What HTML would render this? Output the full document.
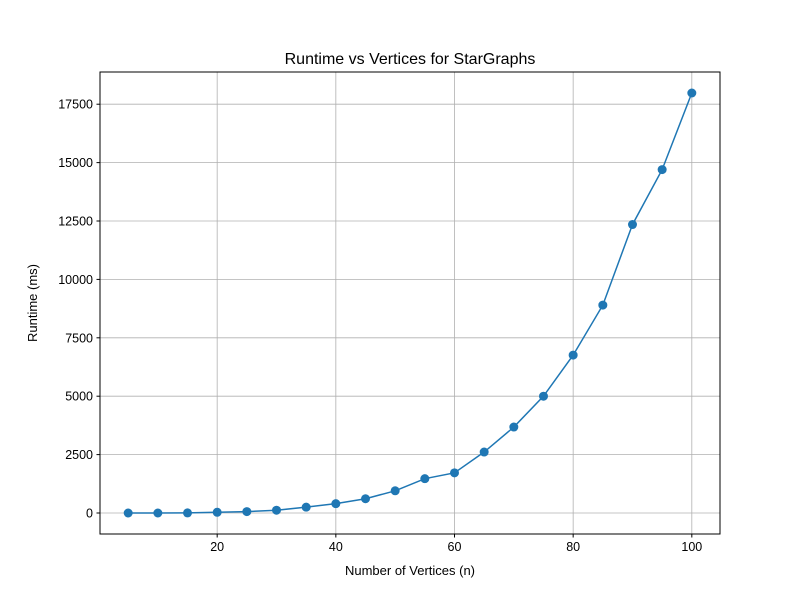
<!DOCTYPE html>
<html><head><meta charset="utf-8"><style>body{margin:0;background:#fff}svg{font-family:"Liberation Sans","DejaVu Sans",sans-serif}</style></head>
<body>
<svg id="chart" width="800" height="600">
<rect width="800" height="600" fill="#fff"/>
<g id="grid"></g>
<g id="series"></g>
<rect x="100" y="72" width="620" height="462" fill="none" stroke="#000" stroke-width="1"/>
<g id="axes" font-size="12.5" fill="#000"></g>
<text x="410" y="64" text-anchor="middle" font-size="16">Runtime vs Vertices for StarGraphs</text>
<text x="410" y="575" text-anchor="middle" font-size="13">Number of Vertices (n)</text>
<text x="37" y="303" text-anchor="middle" font-size="13" transform="rotate(-90 37 303)">Runtime (ms)</text>
</svg>
<script>
const vertices=[5,10,15,20,25,30,35,40,45,50,55,60,65,70,75,80,85,90,95,100];
const runtimes=[0,0,5,30,60,120,250,400,610,950,1470,1720,2610,3680,5000,6760,8900,12350,14700,17980];
const xTicks=[20,40,60,80,100];
const yTicks=[0,2500,5000,7500,10000,12500,15000,17500];
const NS="http://www.w3.org/2000/svg";
const L=100,R=720,T=72,B=534;
const xmin=Math.min(...vertices),xmax=Math.max(...vertices),xm=(xmax-xmin)*0.05;
const ymin=Math.min(...runtimes),ymax=Math.max(...runtimes),ym=(ymax-ymin)*0.05;
const xs=v=>L+(v-(xmin-xm))/((xmax+xm)-(xmin-xm))*(R-L);
const ys=v=>B-(v-(ymin-ym))/((ymax+ym)-(ymin-ym))*(B-T);
function mk(t,a,p){const e=document.createElementNS(NS,t);for(const k in a)e.setAttribute(k,a[k]);p.appendChild(e);return e;}
const g=document.getElementById('grid'),ax=document.getElementById('axes'),s=document.getElementById('series');
xTicks.forEach(v=>{const x=xs(v);
const l=mk('line',{x1:x,x2:x,y1:T,y2:B,stroke:'#b0b0b0','stroke-width':0.8},g);


mk('line',{x1:x,x2:x,y1:B,y2:B+3.5,stroke:'#000'},ax);
const t=mk('text',{x:x,y:B+17,'text-anchor':'middle'},ax);t.textContent=v;

});
yTicks.forEach(v=>{const y=ys(v);
const l=mk('line',{x1:L,x2:R,y1:y,y2:y,stroke:'#b0b0b0','stroke-width':0.8},g);


mk('line',{x1:L-3.5,x2:L,y1:y,y2:y,stroke:'#000'},ax);
const t=mk('text',{x:L-7,y:y+4.5,'text-anchor':'end'},ax);t.textContent=v;

});
const p=mk('polyline',{points:vertices.map((v,i)=>xs(v)+','+ys(runtimes[i])).join(' '),fill:'none',stroke:'#1f77b4','stroke-width':1.5},s);


vertices.forEach((v,i)=>{const c=mk('circle',{cx:xs(v),cy:ys(runtimes[i]),r:4.5,fill:'#1f77b4'},s);

});
</script>
</body></html>
